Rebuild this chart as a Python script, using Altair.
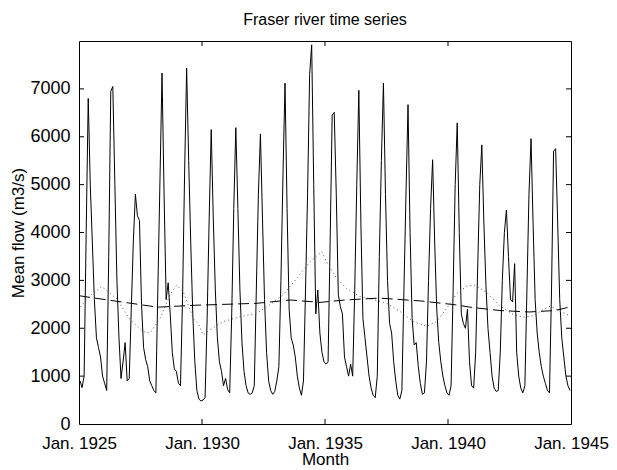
import altair as alt
import pandas as pd

# Monthly mean flow (m3/s), Jan..Dec of each year
flow_1925 = [900, 760, 1000, 4000, 6800, 5000, 3800, 2600, 1800, 1600, 1400, 1000]
flow_1926 = [850, 700, 3500, 6950, 7050, 5000, 3000, 1800, 950, 1300, 1700, 900]
flow_1927 = [950, 2400, 3800, 4800, 4350, 4250, 2500, 1600, 1350, 1200, 900, 800]
flow_1928 = [700, 650, 2900, 5100, 7330, 4800, 2600, 2950, 2300, 1500, 1150, 1100]
flow_1929 = [850, 800, 2600, 5200, 7430, 5500, 3800, 2300, 1300, 700, 520, 480]
flow_1930 = [500, 550, 2200, 4300, 6150, 4300, 2800, 1800, 1300, 1100, 800, 950]
flow_1931 = [720, 650, 2300, 4500, 6190, 4500, 2800, 1700, 1100, 800, 650, 620]
flow_1932 = [650, 800, 2800, 4800, 6060, 4300, 2600, 1500, 900, 700, 620, 680]
flow_1933 = [900, 1200, 3000, 5200, 7120, 4500, 2400, 1800, 1650, 1400, 1000, 750]
flow_1934 = [600, 900, 2800, 4800, 7300, 7920, 5000, 2300, 2800, 1900, 1500, 1300]
flow_1935 = [1250, 1300, 3800, 6450, 6510, 4800, 2700, 2450, 2300, 1400, 1200, 1000]
flow_1936 = [1250, 1000, 2800, 5000, 6970, 4200, 2200, 1800, 1400, 1000, 750, 600]
flow_1937 = [550, 1000, 3500, 5500, 7120, 4800, 3000, 2100, 1900, 1300, 900, 600]
flow_1938 = [520, 700, 2800, 4800, 6670, 4000, 2200, 1650, 1700, 1200, 850, 620]
flow_1939 = [650, 1300, 3000, 4500, 5520, 3800, 2400, 1700, 1300, 1000, 800, 650]
flow_1940 = [600, 800, 2800, 5000, 6290, 4000, 2300, 2100, 2000, 2400, 1300, 800]
flow_1941 = [750, 1500, 3300, 5000, 5830, 4200, 2900, 2000, 1500, 1000, 750, 680]
flow_1942 = [700, 1500, 3000, 4000, 4470, 3500, 2600, 2550, 3350, 1500, 1000, 750]
flow_1943 = [650, 800, 2800, 4800, 5960, 4200, 2600, 1900, 1500, 1200, 1000, 850]
flow_1944 = [700, 650, 2800, 5700, 5750, 4200, 2600, 1800, 1400, 1000, 800, 700]

flow = (flow_1925 + flow_1926 + flow_1927 + flow_1928 + flow_1929 + flow_1930 +
        flow_1931 + flow_1932 + flow_1933 + flow_1934 + flow_1935 + flow_1936 +
        flow_1937 + flow_1938 + flow_1939 + flow_1940 + flow_1941 + flow_1942 +
        flow_1943 + flow_1944)

# Dotted curve: (years after Jan 1925, value)
dotted_t = [0.05, 0.5, 0.92, 1.53, 2.04, 2.6, 2.88, 3.29, 3.7, 3.97, 4.24, 4.65, 4.85,
            5.05, 5.3, 5.87, 6.54, 7.22, 7.76, 8.3, 8.85, 9.39, 9.87, 10.07, 10.47,
            10.88, 11.42, 11.83, 12.51, 13.05, 13.59, 14.13, 14.54, 14.95, 15.35,
            15.76, 16.1, 16.57, 17.11, 17.59, 18.06, 18.47, 18.87, 19.15, 19.55, 19.95]
dotted_v = [2450, 2700, 2870, 2620, 2200, 1930, 1900, 2200, 2700, 2900, 2760, 2200, 2100,
            1860, 1960, 2140, 2240, 2310, 2490, 2700, 3040, 3390, 3600, 3380, 3050,
            2830, 2660, 2620, 2520, 2350, 2140, 2040, 2140, 2420, 2720,
            2880, 2900, 2750, 2470, 2300, 2230, 2260, 2390, 2460, 2360, 2260]

# Dashed curve: (years after Jan 1925, value)
dashed_t = [0.0, 0.5, 2.4, 3.2, 4.7, 7.2, 8.6, 9.8, 10.8, 12.2, 13.9, 15.3, 15.9, 17.1, 18.3, 19.35, 20.0]
dashed_v = [2680, 2640, 2500, 2440, 2480, 2520, 2590, 2540, 2590, 2630, 2570, 2490, 2440, 2370, 2340, 2370, 2450]

x_ticks = [1925, 1930, 1935, 1940, 1945]
x_inner_ticks = [1930, 1935, 1940]
y_ticks = [0, 1000, 2000, 3000, 4000, 5000, 6000, 7000]
y_inner_ticks = [1000, 2000, 3000, 4000, 5000, 6000, 7000]

W, H = 492, 383
FONT = "Liberation Sans"

df_flow = pd.DataFrame({"t": [1925 + (i + 0.5) / 12 for i in range(len(flow))], "v": flow})
df_dot = pd.DataFrame({"t": [1925 + d for d in dotted_t], "v": dotted_v})
df_dash = pd.DataFrame({"t": [1925 + d for d in dashed_t], "v": dashed_v})
df_xt = pd.DataFrame({"t": x_inner_ticks})
df_yt = pd.DataFrame({"v": y_inner_ticks})

xs = alt.Scale(domain=[1925, 1945], nice=False, zero=False)
ys = alt.Scale(domain=[0, 8000], nice=False)

x_axis = alt.Axis(values=x_ticks, labelExpr="'Jan. ' + datum.value", ticks=False,
                  domain=False, grid=False, labelPadding=11, labelFontSize=17,
                  labelFlush=False, labelOverlap=False,
                  titleFontSize=17, titlePadding=0, labelFont=FONT, titleFont=FONT,
                  labelColor="black", titleColor="black", titleFontWeight="normal")
y_axis = alt.Axis(values=y_ticks, format="d", ticks=False, domain=False, grid=False,
                  labelPadding=9, labelFontSize=18, titleFontSize=17, titlePadding=2,
                  labelFlush=False, labelOverlap=False,
                  labelFont=FONT, titleFont=FONT, labelColor="black", titleColor="black",
                  titleFontWeight="normal")

flow_line = alt.Chart(df_flow).mark_line(color="black", strokeWidth=1).encode(
    x=alt.X("t:Q", scale=xs, axis=x_axis, title="Month"),
    y=alt.Y("v:Q", scale=ys, axis=y_axis, title="Mean flow (m3/s)"),
)
dot_line = alt.Chart(df_dot).mark_line(color="#555555", strokeWidth=1, strokeDash=[1, 3]).encode(
    x=alt.X("t:Q", scale=xs), y=alt.Y("v:Q", scale=ys)
)
dash_line = alt.Chart(df_dash).mark_line(color="black", strokeWidth=1, strokeDash=[11, 5]).encode(
    x=alt.X("t:Q", scale=xs), y=alt.Y("v:Q", scale=ys)
)

xt_bottom = alt.Chart(df_xt).mark_rule(color="black").encode(
    x=alt.X("t:Q", scale=xs), y=alt.value(H), y2=alt.value(H - 5))
xt_top = alt.Chart(df_xt).mark_rule(color="black").encode(
    x=alt.X("t:Q", scale=xs), y=alt.value(0), y2=alt.value(5))
yt_left = alt.Chart(df_yt).mark_rule(color="black").encode(
    y=alt.Y("v:Q", scale=ys), x=alt.value(0), x2=alt.value(5))
yt_right = alt.Chart(df_yt).mark_rule(color="black").encode(
    y=alt.Y("v:Q", scale=ys), x=alt.value(W - 5), x2=alt.value(W))

chart = alt.layer(flow_line, dot_line, dash_line, xt_bottom, xt_top, yt_left, yt_right).properties(
    width=W, height=H,
    title=alt.TitleParams("Fraser river time series", font=FONT, fontSize=16,
                          fontWeight="normal", color="black", offset=13),
    padding={"left": 71, "top": 33, "right": 38, "bottom": 46},
    autosize=alt.AutoSizeParams(type="none"),
).configure_view(stroke="black", strokeWidth=1)

chart.save("out.html", embed_options={"renderer": "svg", "actions": False})
